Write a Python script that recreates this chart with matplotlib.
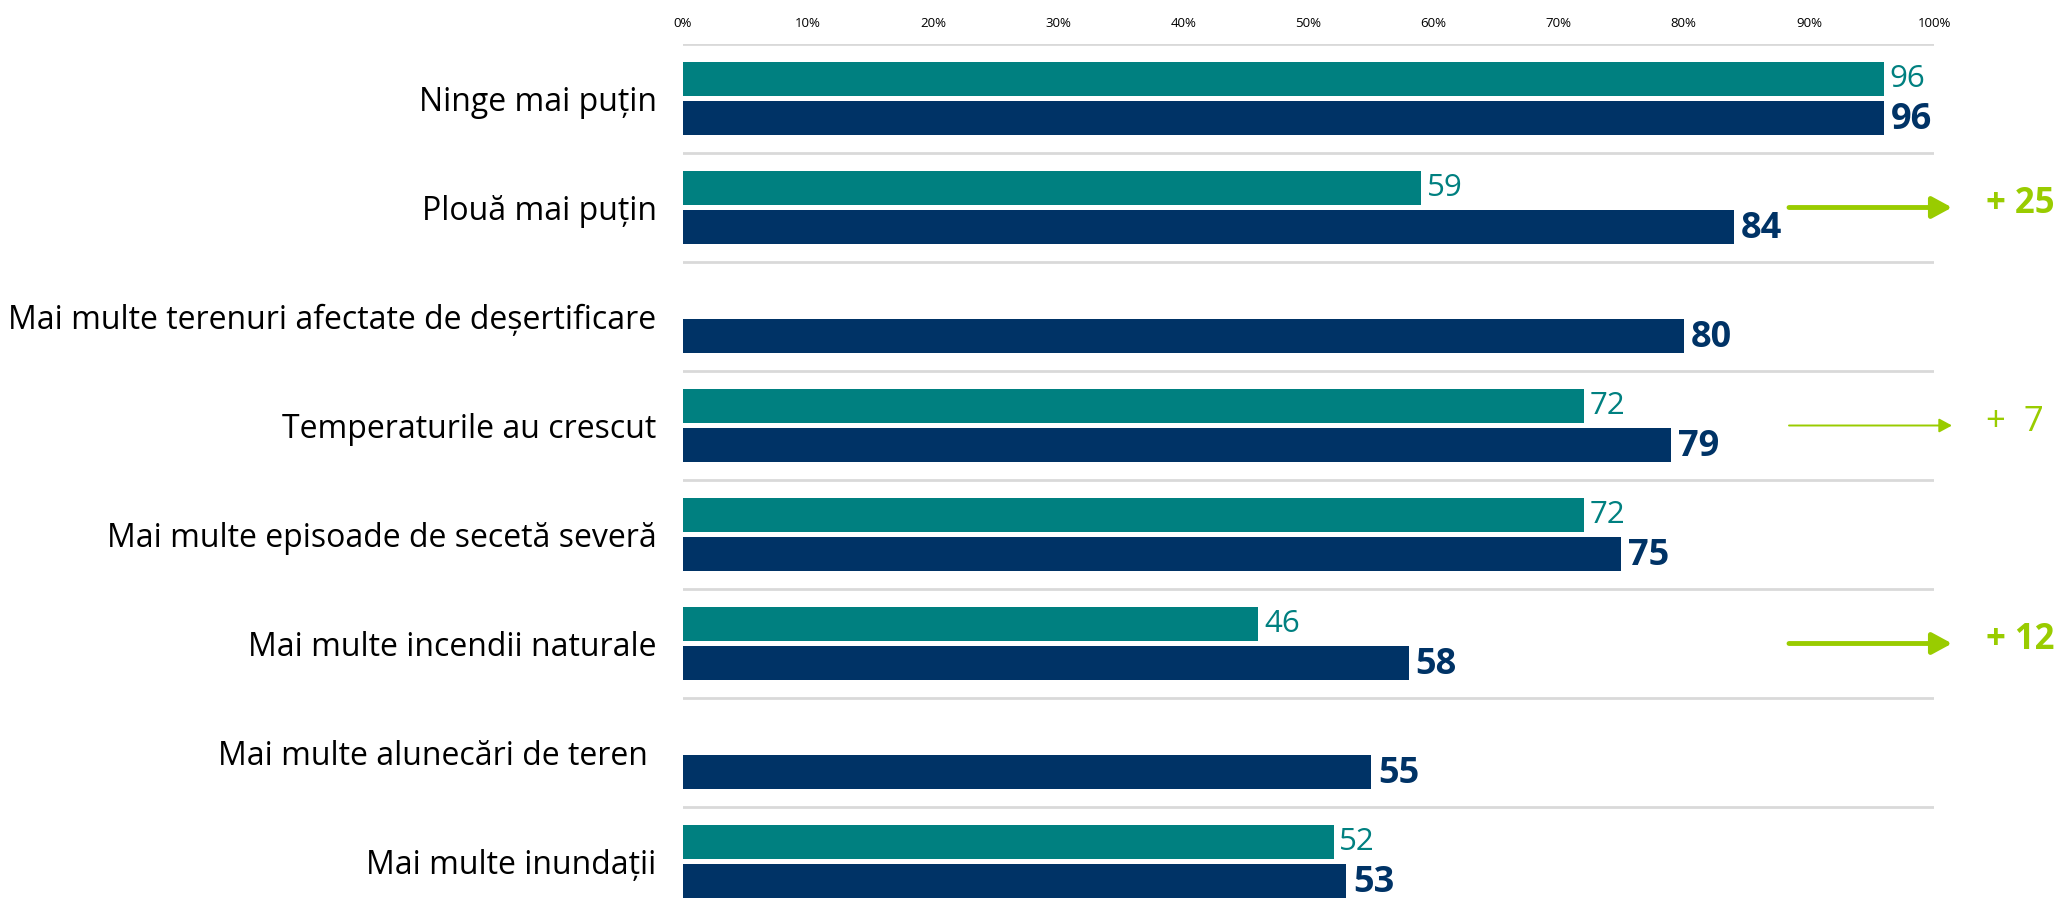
import numpy as np
import matplotlib
matplotlib.use("Agg")
import matplotlib.pyplot as plt
import matplotlib.transforms as mtransforms

# ---- data ----
categories = [
    "Ninge mai puțin",
    "Plouă mai puțin",
    "Mai multe terenuri afectate de deșertificare",
    "Temperaturile au crescut",
    "Mai multe episoade de secetă severă",
    "Mai multe incendii naturale",
    "Mai multe alunecări de teren ",
    "Mai multe inundații",
]
prev_values = [96, 59, np.nan, 72, 72, 46, np.nan, 52]
curr_values = [96, 84, 80, 79, 75, 58, 55, 53]
x_ticks = list(range(0, 101, 10))
arrow_rows = [1, 3, 5]          # rows with a highlighted increase
arrow_bold = [True, False, True]

TEAL = "#008080"
NAVY = "#003366"
GREEN = "#99CC00"
GRID = "#D9D9D9"

plt.rcParams["font.family"] = ["Open Sans", "DejaVu Sans"]

W, H = 2060, 908
fig = plt.figure(figsize=(W / 100, H / 100), dpi=100)
ax_left, ax_right, ax_top = 683, 1934, 44
ax = fig.add_axes([ax_left / W, 0, (ax_right - ax_left) / W, 1 - ax_top / H])

row_px = 109
n = len(categories)
y = np.arange(n)
ax.set_xlim(0, 100)
ax.set_ylim(-0.5 + (H - ax_top) / row_px, -0.5)

bh = 0.315
off = 0.176
prev = np.array(prev_values, dtype=float)
curr = np.array(curr_values, dtype=float)

ax.barh(y - off, np.nan_to_num(prev), height=bh, color=TEAL, zorder=2)
ax.barh(y + off, curr, height=bh, color=NAVY, zorder=2)

# separators
for yy in np.arange(-0.5, n - 1, 1.0):
    ax.axhline(yy, color=GRID, lw=2, zorder=1)

# value labels
for i in range(n):
    if not np.isnan(prev[i]):
        ax.annotate(f"{prev[i]:.0f}", (prev[i], i - off), xytext=(4, 0),
                    textcoords="offset points", va="center", ha="left",
                    color=TEAL, fontsize=22.5)
    ax.annotate(f"{curr[i]:.0f}", (curr[i], i + off), xytext=(5, -1.5),
                textcoords="offset points", va="center", ha="left",
                color=NAVY, fontsize=26, fontweight="bold")

# increase arrows on the right
trans = mtransforms.blended_transform_factory(ax.transAxes, ax.transData)
for r, bold in zip(arrow_rows, arrow_bold):
    diff = int(curr[r] - prev[r])
    x0 = (1789 - ax_left) / (ax_right - ax_left)
    x1 = (1952 - ax_left) / (ax_right - ax_left)
    xt = (1986 - ax_left) / (ax_right - ax_left)
    lw = 3.5 if bold else 1.4
    ms = 17 if bold else 11
    ax.annotate("", xy=(x1, r), xytext=(x0, r), xycoords=trans, textcoords=trans,
                annotation_clip=False,
                arrowprops=dict(arrowstyle="-|>,head_length=0.7,head_width=0.38",
                                color=GREEN, lw=lw, mutation_scale=ms,
                                shrinkA=0, shrinkB=0))
    ax.text(xt, r - 0.03, f"+ {diff:2d}", transform=trans, ha="left", va="center",
            color=GREEN, fontsize=25, fontweight="bold" if bold else "normal",
            clip_on=False)

# axes styling
ax.xaxis.tick_top()
ax.set_xticks(x_ticks)
ax.set_xticklabels([f"{t}%" for t in x_ticks])
ax.tick_params(axis="x", length=0, pad=10, labelsize=9.5, colors="black")
ax.set_yticks(y)
ax.set_yticklabels(categories)
ax.tick_params(axis="y", length=0, pad=19, labelsize=23)
for s in ax.spines.values():
    s.set_visible(False)

fig.savefig("out.png", dpi=100)
